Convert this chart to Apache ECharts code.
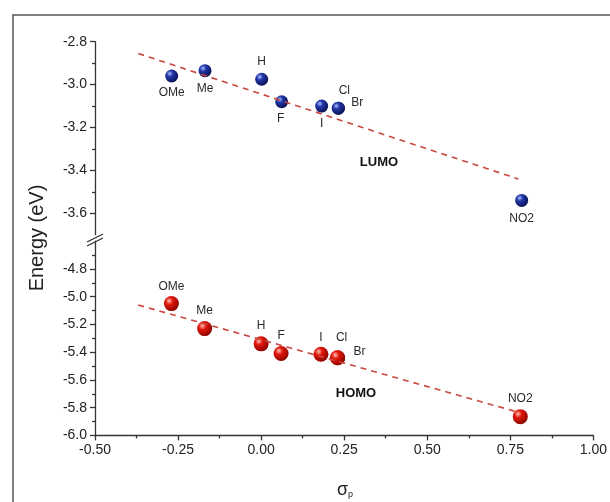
<!DOCTYPE html>
<html>
<head>
<meta charset="utf-8">
<script src="https://cdn.jsdelivr.net/npm/echarts@6/dist/echarts.min.js"></script>
<style>
html, body { margin: 0; padding: 0; background: #fff; }
#chart { width: 610px; height: 502px; }
</style>
</head>
<body>
<div id="chart"></div>
<script>
// substituents and Hammett constants
var names = ['OMe', 'Me', 'H', 'F', 'I', 'Cl', 'Br', 'NO2'];
var sigmaP = [-0.27, -0.17, 0.00, 0.06, 0.18, 0.23, 0.23, 0.78];
var lumo = [-2.96, -2.935, -2.975, -3.08, -3.10, -3.11, -3.11, -3.54];
var homo = [-5.05, -5.23, -5.34, -5.41, -5.415, -5.44, -5.44, -5.865];
// dashed fit lines (end points)
var lumoFit = [[-0.37, -2.855], [0.77, -3.44]];
var homoFit = [[-0.37, -5.06], [0.77, -5.83]];
// ticks
var xTicks = [-0.5, -0.25, 0, 0.25, 0.5, 0.75, 1.0];
var xMinor = [-0.375, -0.125, 0.125, 0.375, 0.625, 0.875];
var lumoTicks = [-3.6, -3.4, -3.2, -3.0, -2.8];
var lumoMinor = [-3.5, -3.3, -3.1, -2.9];
var homoTicks = [-6.0, -5.8, -5.6, -5.4, -5.2, -5.0, -4.8];
var homoMinor = [-5.9, -5.7, -5.5, -5.3, -5.1, -4.9, -4.7];

// label placement (offset from ball centre)
var lumoLabelOffset = { OMe: [0, 17], Me: [0, 18], H: [0, -18], F: [-1, 17], I: [0, 18], Cl: [6, -17], Br: [19, -5], NO2: [0, 18] };
var homoLabelOffset = { OMe: [0, -17], Me: [0, -18], H: [0, -18], F: [0, -18], I: [0, -17], Cl: [4, -20], Br: [22, -6], NO2: [0, -18] };

var FONT = '"Liberation Sans", Arial, sans-serif';
var axisColor = '#333';

function points(values, offsets) {
    return names.map(function (n, i) {
        return {
            name: n,
            value: [sigmaP[i], values[i]],
            label: { offset: offsets[n] }
        };
    });
}

function ball(c0, c1, c2) {
    return {
        type: 'radial', x: 0.35, y: 0.32, r: 0.7,
        colorStops: [
            { offset: 0, color: c0 },
            { offset: 0.35, color: c1 },
            { offset: 1, color: c2 }
        ]
    };
}

function yMain(grid, min, max, ticks) {
    return {
        type: 'value', gridIndex: grid, min: min, max: max, position: 'left',
        splitLine: { show: false },
        axisLine: { show: true, onZero: false, lineStyle: { color: axisColor, width: 1.3 } },
        axisTick: { show: true, customValues: ticks, length: 5, lineStyle: { color: axisColor, width: 1.3 } },
        axisLabel: {
            customValues: ticks, margin: 8, color: '#222', fontSize: 14, fontFamily: FONT,
            formatter: function (v) { return v.toFixed(1); }
        }
    };
}

function yMinor(grid, min, max, ticks) {
    return {
        type: 'value', gridIndex: grid, min: min, max: max, position: 'left',
        splitLine: { show: false },
        axisLine: { show: false, onZero: false },
        axisTick: { show: true, customValues: ticks, length: 3, lineStyle: { color: axisColor, width: 1.3 } },
        axisLabel: { show: false }
    };
}

var chart = echarts.init(document.getElementById('chart'));

var labelStyle = {
    show: true, position: 'inside', formatter: '{b}',
    color: '#2a2a2a', fontSize: 12, fontFamily: FONT, textBorderWidth: 0
};

chart.setOption({
    animation: false,
    backgroundColor: '#fff',
    grid: [
        { left: 95, right: 15, top: 41.7, height: 193 },
        { left: 95, right: 15, top: 241.2, height: 194.2 }
    ],
    xAxis: [
        { type: 'value', gridIndex: 0, min: -0.5, max: 1.0, show: false },
        {
            type: 'value', gridIndex: 1, min: -0.5, max: 1.0, position: 'bottom',
            splitLine: { show: false },
            axisLine: { show: true, onZero: false, lineStyle: { color: axisColor, width: 1.3 } },
            axisTick: { show: true, customValues: xTicks, length: 5, lineStyle: { color: axisColor, width: 1.3 } },
            axisLabel: {
                customValues: xTicks, margin: 8, color: '#222', fontSize: 14, fontFamily: FONT,
                formatter: function (v) { return v.toFixed(2); }
            }
        },
        {
            type: 'value', gridIndex: 1, min: -0.5, max: 1.0, position: 'bottom',
            splitLine: { show: false },
            axisLine: { show: false, onZero: false },
            axisTick: { show: true, customValues: xMinor, length: 3, lineStyle: { color: axisColor, width: 1.3 } },
            axisLabel: { show: false }
        }
    ],
    yAxis: [
        yMain(0, -3.7, -2.8, lumoTicks),
        yMinor(0, -3.7, -2.8, lumoMinor),
        yMain(1, -6.0, -4.6, homoTicks),
        yMinor(1, -6.0, -4.6, homoMinor)
    ],
    series: [
        {
            type: 'line', xAxisIndex: 0, yAxisIndex: 0, data: lumoFit,
            symbol: 'none', silent: true,
            lineStyle: { color: '#c9473f', width: 1.6, type: [6, 5] }
        },
        {
            type: 'line', xAxisIndex: 1, yAxisIndex: 2, data: homoFit,
            symbol: 'none', silent: true,
            lineStyle: { color: '#c9473f', width: 1.6, type: [6, 5] }
        },
        {
            name: 'LUMO', type: 'scatter', xAxisIndex: 0, yAxisIndex: 0,
            data: points(lumo, lumoLabelOffset),
            symbolSize: 13,
            itemStyle: { color: ball('#aebcff', '#2036a8', '#0a1255'), opacity: 1 },
            label: labelStyle
        },
        {
            name: 'HOMO', type: 'scatter', xAxisIndex: 1, yAxisIndex: 2,
            data: points(homo, homoLabelOffset),
            symbolSize: 15,
            itemStyle: { color: ball('#ffc2b5', '#e2180c', '#8c0500'), opacity: 1 },
            label: labelStyle
        }
    ],
    graphic: [
        // outer frame
        { type: 'rect', shape: { x: 13, y: 15, width: 620, height: 520 }, style: { fill: 'none', stroke: '#555', lineWidth: 1.5 }, silent: true },
        // axis break marks
        { type: 'line', shape: { x1: 87, y1: 242, x2: 103, y2: 234 }, style: { stroke: axisColor, lineWidth: 1.3 } },
        { type: 'line', shape: { x1: 87, y1: 246, x2: 103, y2: 238 }, style: { stroke: axisColor, lineWidth: 1.3 } },
        // axis names
        {
            type: 'text', x: 37, y: 238, rotation: Math.PI / 2,
            style: { text: 'Energy (eV)', fill: '#222', font: '20px ' + FONT, textAlign: 'center', textVerticalAlign: 'middle' }
        },
        {
            type: 'text', x: 345, y: 490,
            style: {
                text: '{a|σ}{b|p}', textAlign: 'center', textVerticalAlign: 'middle',
                rich: {
                    a: { fontSize: 18, fontFamily: FONT, fill: '#222', color: '#222' },
                    b: { fontSize: 9, fontFamily: FONT, fill: '#222', color: '#222', padding: [10, 0, 0, 0] }
                }
            }
        },
        {
            type: 'text', x: 379, y: 162,
            style: { text: 'LUMO', fill: '#111', font: 'bold 13px ' + FONT, textAlign: 'center', textVerticalAlign: 'middle' }
        },
        {
            type: 'text', x: 356, y: 393,
            style: { text: 'HOMO', fill: '#111', font: 'bold 13px ' + FONT, textAlign: 'center', textVerticalAlign: 'middle' }
        }
    ]
});
</script>
</body>
</html>
